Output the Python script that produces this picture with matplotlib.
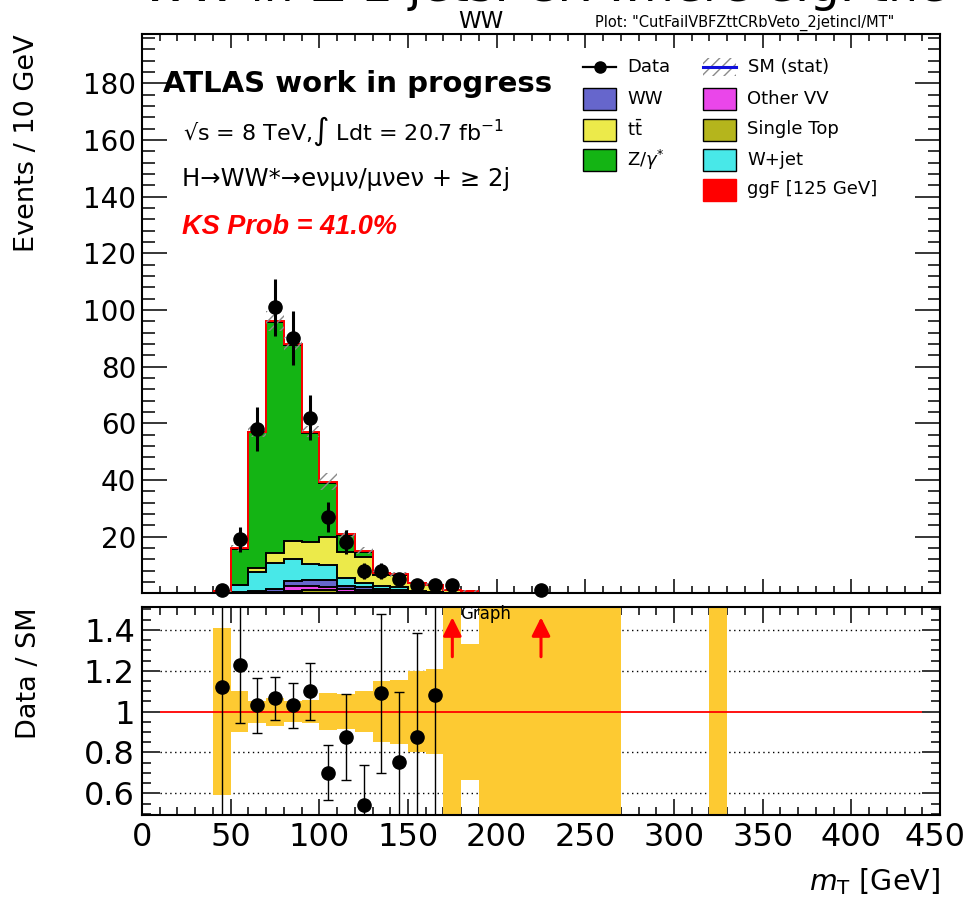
import numpy as np
import matplotlib
matplotlib.use("Agg")
import matplotlib.pyplot as plt
from matplotlib.patches import Rectangle
from matplotlib.lines import Line2D
from matplotlib.ticker import MultipleLocator, FixedFormatter, FixedLocator

W, H = 966, 907
plt.rcParams["font.family"] = ["DejaVu Sans"]
plt.rcParams["hatch.color"] = "#8a8a8a"
plt.rcParams["hatch.linewidth"] = 1.0

# ---------------- data ----------------
# stacked SM backgrounds, 10 GeV bins from 40 to 190 GeV
EDGES = np.arange(40, 200, 10)
single_top = [0.0, 0.0, 0.1, 0.2, 0.9, 1.3, 1.2, 0.5, 0.4, 0.3, 0.2, 0.1, 0.1, 0.0, 0.1]
other_vv = [0.0, 0.1, 0.2, 0.3, 1.7, 1.2, 1.1, 0.9, 0.6, 0.4, 0.3, 0.1, 0.1, 0.0, 0.0]
ww = [0.1, 0.2, 0.4, 0.9, 1.7, 2.2, 2.4, 1.3, 1.3, 0.8, 0.8, 0.4, 0.2, 0.1, 0.0]
wjet = [0.3, 2.6, 6.9, 9.2, 7.9, 5.6, 5.3, 2.6, 1.5, 1.1, 0.8, 0.3, 0.2, 0.1, 0.0]
ttbar = [0.1, 0.1, 1.2, 3.5, 6.3, 7.7, 9.8, 9.4, 9.1, 4.0, 4.3, 2.6, 2.3, 0.9, 0.7]
zjets = [0.4, 12.7, 48.0, 81.5, 69.1, 38.7, 19.2, 5.9, 1.8, 0.4, 0.2, 0.1, 0.1, 0.0, 0.0]
ggf = [0.05, 0.2, 0.3, 0.4, 0.4, 0.4, 0.4, 0.3, 0.3, 0.2, 0.1, 0.1, 0.1, 0.05, 0.05]
mc_stat = [0.4, 1.0, 2.0, 3.5, 2.5, 2.0, 3.0, 1.5, 1.2, 0.8, 0.8, 0.5, 0.5, 0.4, 0.3]

data_x = [45, 55, 65, 75, 85, 95, 105, 115, 125, 135, 145, 155, 165, 175, 225]
data_n = [1, 19, 58, 101, 90, 62, 27, 18, 8, 8, 5, 3, 3, 3, 1]

# ratio panel
ratio_x = [45, 55, 65, 75, 85, 95, 105, 115, 125, 135, 145, 155, 165]
ratio_val = [1.12, 1.23, 1.03, 1.065, 1.03, 1.10, 0.70, 0.877, 0.545, 1.09, 0.752, 0.875, 1.082]
ratio_err = [1.12, 0.285, 0.135, 0.105, 0.11, 0.14, 0.135, 0.21, 0.195, 0.39, 0.342, 0.51, 0.63]
arrow_x = [175, 225]
BAND_EDGES = np.arange(40, 340, 10)
band_rel = [0.41, 0.10, 0.054, 0.068, 0.05, 0.055, 0.09, 0.087, 0.10, 0.15, 0.157, 0.20, 0.207,
            1.0, 0.333, 1.0, 1.0, 1.0, 1.0, 1.0, 1.0, 1.0, 1.0,
            0, 0, 0, 0, 0, 1.0]
x_ticks = [0, 50, 100, 150, 200, 250, 300, 350, 400, 450]

LAYERS = [("Single Top", single_top, "#b5b51c"),
          ("Other VV", other_vv, "#ea46ea"),
          ("WW", ww, "#6666cc"),
          ("W+jet", wjet, "#48e8e8"),
          (r"t$\bar{\mathrm{t}}$", ttbar, "#ecea4a"),
          (r"Z/$\gamma^{*}$", zjets, "#14b414"),
          ("ggF [125 GeV]", ggf, "#ff0000")]


def fx(px):
    return px / W


def fy(py):
    return 1 - py / H


fig = plt.figure(figsize=(W / 100, H / 100), dpi=100)
ax = fig.add_axes([fx(142), fy(593.3), (940 - 142) / W, (593.3 - 34) / H])
axr = fig.add_axes([fx(142), fy(815), (940 - 142) / W, (815 - 607) / H])

# ---------------- main panel ----------------
base = np.zeros(len(EDGES) - 1)
for name, vals, col in LAYERS:
    top = base + np.array(vals)
    ax.stairs(top, EDGES, baseline=base, fill=True, facecolor=col, edgecolor="none", zorder=2)
    base = top
base = np.zeros(len(EDGES) - 1)
for name, vals, col in LAYERS:
    top = base + np.array(vals)
    ax.stairs(top, EDGES, baseline=None, color="red" if name.startswith("ggF") else "black",
              lw=1.4, zorder=3)
    base = top
total = base
err = np.array(mc_stat)
ax.bar(EDGES[:-1], 2 * err, bottom=total - err, width=10, align="edge", fill=False,
       hatch="///", edgecolor="#8a8a8a", lw=0, zorder=4)

ax.errorbar(data_x, data_n, yerr=np.sqrt(data_n), fmt="o", color="black", ms=9.5,
            elinewidth=2.2, capsize=0, zorder=6, clip_on=False)

ax.set_xlim(0, 450)
ax.set_ylim(0, 197.4)
ax.set_yticks(np.arange(20, 181, 20))
ax.yaxis.set_minor_locator(MultipleLocator(4))
ax.xaxis.set_major_locator(MultipleLocator(50))
ax.xaxis.set_minor_locator(MultipleLocator(10))
ax.tick_params(which="both", direction="in", top=True, right=True, width=1.1,
               labelbottom=False, labelsize=20, pad=4)
ax.tick_params(axis="y", which="major", length=18)
ax.tick_params(axis="y", which="minor", length=9)
ax.tick_params(axis="x", which="major", length=10)
ax.tick_params(axis="x", which="minor", length=5)
for s in ax.spines.values():
    s.set_linewidth(1.5)
fig.text(fx(27), fy(34), "Events / 10 GeV", fontsize=19.5, rotation=90, ha="center", va="top")

# labels inside the plot
fig.text(fx(163), fy(92), "ATLAS work in progress", fontsize=21, fontweight="bold", va="baseline")
fig.text(fx(183), fy(140), r"√s = 8 TeV,∫ Ldt = 20.7 fb$^{-1}$", fontsize=16, va="baseline")
fig.text(fx(182), fy(186), "H→WW*→eνμν/μνeν + ≥ 2j", fontsize=17.5, va="baseline")
fig.text(fx(182), fy(234), "KS Prob = 41.0%", fontsize=19.5, color="red", fontweight="bold",
         fontstyle="italic", family=["Liberation Sans", "DejaVu Sans"], va="baseline")

# legend, drawn by hand as two ROOT-like columns
ROW = [67, 99, 129.5, 160, 189.5]
c1, c2 = 583, 703
leg = [(c1, ROW[1], "WW", "#6666cc"), (c1, ROW[2], r"t$\bar{\mathrm{t}}$", "#ecea4a"),
       (c1, ROW[3], r"Z/$\gamma^{*}$", "#14b414"),
       (c2, ROW[1], "Other VV", "#ea46ea"), (c2, ROW[2], "Single Top", "#b5b51c"),
       (c2, ROW[3], "W+jet", "#48e8e8"), (c2, ROW[4], "ggF [125 GeV]", "#ff0000")]
for x0, yc, lab, col in leg:
    ec = col if lab.startswith("ggF") else "black"
    fig.add_artist(Rectangle((fx(x0), fy(yc + 11)), 33 / W, 22 / H, transform=fig.transFigure,
                             facecolor=col, edgecolor=ec, lw=1.0))
    fig.text(fx(x0 + 44), fy(yc), lab, fontsize=13, va="center")
fig.add_artist(Line2D([fx(c1), fx(c1 + 33)], [fy(ROW[0])] * 2, transform=fig.transFigure,
                      color="black", lw=1.6))
fig.add_artist(Line2D([fx(c1 + 16.5)], [fy(ROW[0])], transform=fig.transFigure, marker="o",
                      color="black", ms=8))
fig.text(fx(c1 + 44), fy(ROW[0]), "Data", fontsize=13, va="center")
fig.add_artist(Rectangle((fx(c2), fy(ROW[0] + 9)), 33 / W, 18 / H, transform=fig.transFigure,
                         fill=False, hatch="///", edgecolor="#8a8a8a", lw=0))
fig.add_artist(Line2D([fx(c2), fx(c2 + 33)], [fy(ROW[0])] * 2, transform=fig.transFigure,
                      color="#1010dd", lw=2.2))
fig.text(fx(c2 + 45), fy(ROW[0]), "SM (stat)", fontsize=13, va="center")

# headers above the frame (the big title is cut off at the top, as in the original)
fig.text(fx(142), fy(1), "WW in ≥ 2 jets: CR where e.g. the m", fontsize=34, va="baseline")
fig.text(fx(481), fy(28), "WW", fontsize=16.5, ha="center", va="baseline")
fig.text(fx(745), fy(27), 'Plot: "CutFailVBFZttCRbVeto_2jetincl/MT"', fontsize=10.5,
         ha="center", va="baseline")

# ---------------- ratio panel ----------------
rel = np.array(band_rel)
axr.hlines([0.6, 0.8, 1.2, 1.4], 10, 440, colors="black", linestyles=(0, (1, 2.5)), lw=1.0,
           zorder=1)
axr.bar(BAND_EDGES[:-1], 2 * rel, bottom=1 - rel, width=10, align="edge", color="#fdca32",
        lw=0, zorder=2)
axr.hlines(1.0, 10, 440, colors="red", lw=1.3, zorder=3)
axr.errorbar(ratio_x, ratio_val, yerr=ratio_err, fmt="o", color="black", ms=9.5,
             elinewidth=1.0, capsize=3.5, capthick=1.0, zorder=5)
for xa in arrow_x:
    axr.annotate("", xy=(xa, 1.475), xytext=(xa, 1.255),
                 arrowprops=dict(arrowstyle="-|>", color="red", lw=2.2, mutation_scale=28),
                 zorder=6)
axr.text(179.5, 1.478, "Graph", fontsize=12, va="center", ha="left", zorder=7)

axr.set_xlim(0, 450)
axr.set_ylim(0.494, 1.512)
axr.set_yticks([0.6, 0.8, 1.0, 1.2, 1.4])
axr.set_yticklabels(["0.6", "0.8", "1", "1.2", "1.4"])
axr.yaxis.set_minor_locator(MultipleLocator(0.05))
axr.xaxis.set_major_locator(FixedLocator(x_ticks))
# the last label sits at the canvas edge; it is drawn separately, pulled in a little
axr.xaxis.set_major_formatter(FixedFormatter([str(v) for v in x_ticks[:-1]] + [""]))
axr.xaxis.set_minor_locator(MultipleLocator(10))
axr.tick_params(which="both", direction="in", top=True, right=True, width=1.1,
                labelsize=23, pad=5)
axr.tick_params(axis="y", which="major", length=13)
axr.tick_params(axis="y", which="minor", length=6.5)
axr.tick_params(axis="x", which="major", length=11.5)
axr.tick_params(axis="x", which="minor", length=5.8)
for s in axr.spines.values():
    s.set_linewidth(1.5)
fig.text(fx(965), fy(822), str(x_ticks[-1]), fontsize=23, ha="right", va="top")
fig.text(fx(29), fy(607), "Data / SM", fontsize=19.5, rotation=90, ha="center", va="top")
axr.set_xlabel(r"$m_{\mathrm{T}}$ [GeV]", fontsize=20.5, loc="right")
axr.xaxis.set_label_coords(1.0, -0.245)

fig.savefig("out.png", dpi=100)
